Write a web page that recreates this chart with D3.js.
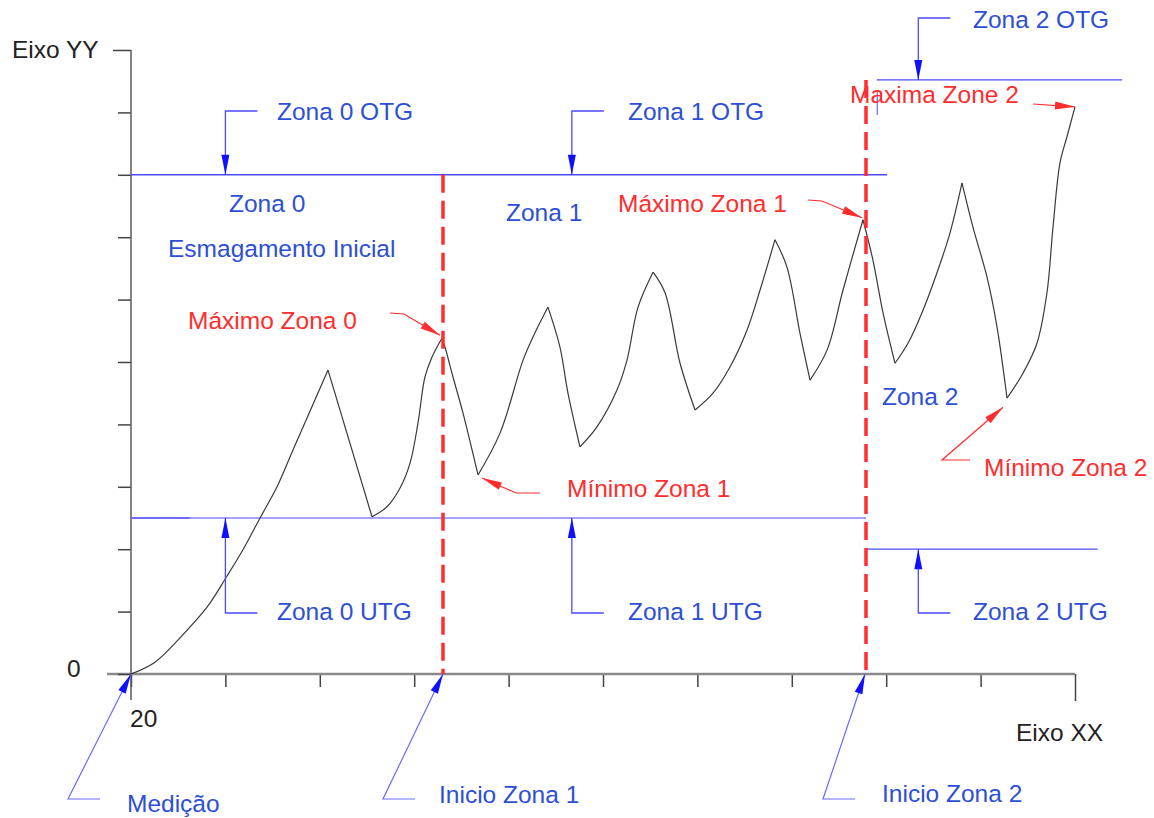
<!DOCTYPE html>
<html><head><meta charset="utf-8">
<script src="https://cdn.jsdelivr.net/npm/d3@7"></script>
<style>html,body{margin:0;padding:0;background:#fff}svg{display:block}</style>
</head><body>
<svg id="chart" width="1154" height="818"></svg>
<script>
// ---- data (x in axis units starting at 20, y in axis units starting at 0) ----
const curveX = [20.00,22.54,25.19,28.05,30.17,31.86,33.67,35.47,37.16,40.87,45.53,47.12,48.50,49.56,50.40,51.14,51.89,52.94,53.26,54.11,55.17,56.76,59.09,61.53,62.58,64.17,65.44,66.29,67.56,69.36,71.48,72.54,73.71,75.30,76.57,78.16,79.75,81.65,83.45,85.25,86.63,88.22,89.49,90.87,91.93,93.73,95.42,97.54,98.60,99.66,100.93,102.31,103.79,105.38,106.76,108.03,109.19,110.68,111.74,112.80,114.49,115.97,117.03,117.67,118.41,119.15,120.00];
const curveY = [0.00,0.19,0.58,1.07,1.57,1.99,2.50,3.00,3.59,4.87,2.52,2.68,2.98,3.38,4.02,4.76,5.08,5.38,5.24,4.76,4.18,3.19,3.86,5.03,5.40,5.88,5.24,4.50,3.64,3.96,4.55,5.03,5.88,6.44,6.11,4.98,4.23,4.50,4.92,5.51,6.15,6.96,6.52,5.46,4.71,5.19,6.15,7.28,6.63,5.79,4.98,5.30,5.79,6.43,7.07,7.87,7.16,6.36,5.56,4.42,4.82,5.30,6.11,7.16,8.19,8.61,9.09];
const xTicks = [20,30,40,50,60,70,80,90,100,110,120];
const yTicks = [0,1,2,3,4,5,6,7,8,9,10];
const xTickLabels = ["20"];
const yTickLabels = ["0"];
const zoneStarts = [53.05, 97.86];          // Inicio Zona 1, Inicio Zona 2
const otgLevels = [8.0, 8.0, 9.52];          // Zona 0, 1, 2 OTG
const utgLevels = [2.5, 2.5, 2.0];           // Zona 0, 1, 2 UTG
const otgSpans = [[20, 100.1], [99.0, 125.0]];
const utgSpans = [[20, 97.86], [97.86, 122.4]];
const leaderX = [30.0, 66.7, 103.4];         // arrow positions for zone labels
const zoneNames = ["Zona 0", "Zona 1", "Zona 2"];
const otgLabels = ["Zona 0 OTG", "Zona 1 OTG", "Zona 2 OTG"];
const utgLabels = ["Zona 0 UTG", "Zona 1 UTG", "Zona 2 UTG"];

// ---- scales ----
const x = d3.scaleLinear().domain([20, 120]).range([131, 1075]);
const y = d3.scaleLinear().domain([0, 10]).range([674, 50]);

const svg = d3.select("#chart");
const FONT = "'Liberation Sans', Arial, sans-serif";
const BLUE_T = "#2d4fd4", BLUE_L = "#4a4aff", BLUE_LIGHT = "#a3a3ff", RED = "#ff2d2d", AX = "#5a5a5a";

// ---- axes ----
const gx = svg.append("g").attr("transform", `translate(0,${y(0)})`)
  .call(d3.axisBottom(x).tickValues(xTicks).tickSize(13).tickFormat(""));
gx.select(".domain").remove();
gx.selectAll(".tick line").attr("stroke", "#444").attr("stroke-width", 1.5)
  .attr("y2", d => d === 120 ? 27 : 13);
svg.append("line").attr("x1", 107).attr("x2", x(120)).attr("y1", y(0)).attr("y2", y(0))
  .attr("stroke", "#8a8a8a").attr("stroke-width", 2.5);

const gy = svg.append("g").attr("transform", `translate(${x(20)},0)`)
  .call(d3.axisLeft(y).tickValues(yTicks).tickSize(13).tickFormat(""));
gy.select(".domain").remove();
gy.selectAll(".tick line").attr("stroke", "#444").attr("stroke-width", 1.5)
  .attr("x2", d => d === 10 ? -18 : -13);
svg.append("line").attr("x1", x(20)).attr("x2", x(20)).attr("y1", y(10)).attr("y2", y(0) + 26)
  .attr("stroke", AX).attr("stroke-width", 1.5);

function txt(s, px, py, color, anchor) {
  svg.append("text").attr("x", px).attr("y", py).attr("fill", color)
    .attr("font-family", FONT).attr("font-size", 24.5).attr("text-anchor", anchor || "start").text(s);
}
txt("Eixo YY", 12, 58, "#222");
txt("Eixo XX", 1016, 741, "#222");
txt(yTickLabels[0], 67, y(0) + 3, "#222");
txt(xTickLabels[0], x(20) - 1, y(0) + 53, "#222");

// ---- threshold lines ----
svg.append("line").attr("x1", x(otgSpans[0][0])).attr("x2", x(otgSpans[0][1]))
  .attr("y1", y(otgLevels[0])).attr("y2", y(otgLevels[0])).attr("stroke", BLUE_L).attr("stroke-width", 1.5);
svg.append("line").attr("x1", x(otgSpans[1][0])).attr("x2", x(otgSpans[1][1]))
  .attr("y1", y(otgLevels[2])).attr("y2", y(otgLevels[2])).attr("stroke", BLUE_L).attr("stroke-width", 1.3);
svg.append("line").attr("x1", x(utgSpans[0][0])).attr("x2", x(utgSpans[0][1]))
  .attr("y1", y(utgLevels[0])).attr("y2", y(utgLevels[0])).attr("stroke", BLUE_LIGHT).attr("stroke-width", 2);
svg.append("line").attr("x1", x(20)).attr("x2", x(26.2))
  .attr("y1", y(utgLevels[0])).attr("y2", y(utgLevels[0])).attr("stroke", "#6b6bff").attr("stroke-width", 2);
svg.append("line").attr("x1", x(utgSpans[1][0])).attr("x2", x(utgSpans[1][1]))
  .attr("y1", y(utgLevels[2])).attr("y2", y(utgLevels[2])).attr("stroke", BLUE_L).attr("stroke-width", 1.3);
// small blue mark near Maxima Zone 2
svg.append("line").attr("x1", x(99.05)).attr("x2", x(99.05)).attr("y1", 92).attr("y2", 115)
  .attr("stroke", BLUE_L).attr("stroke-width", 1);

// ---- curve: smooth between extrema, sharp at peaks/troughs ----
const pts = curveX.map((v, i) => [v, curveY[i]]);
const breaks = [0];
for (let i = 1; i < pts.length - 1; i++) {
  const s1 = pts[i][1] - pts[i - 1][1], s2 = pts[i + 1][1] - pts[i][1];
  if (s1 * s2 < 0) breaks.push(i);
}
breaks.push(pts.length - 1);
const seg = d3.line().x(d => x(d[0])).y(d => y(d[1])).curve(d3.curveCatmullRom.alpha(0.5));
for (let k = 0; k < breaks.length - 1; k++) {
  svg.append("path").datum(pts.slice(breaks[k], breaks[k + 1] + 1))
    .attr("d", seg).attr("fill", "none").attr("stroke", "#3a3a3a").attr("stroke-width", 1.2)
    .attr("stroke-linejoin", "miter");
}

// ---- zone boundaries ----
svg.append("line").attr("x1", x(zoneStarts[0])).attr("x2", x(zoneStarts[0]))
  .attr("y1", y(otgLevels[0])).attr("y2", y(0)).attr("stroke", RED).attr("stroke-width", 3.5).attr("stroke-dasharray", "18,8");
svg.append("line").attr("x1", x(zoneStarts[1])).attr("x2", x(zoneStarts[1]))
  .attr("y1", y(otgLevels[2])).attr("y2", y(0)).attr("stroke", RED).attr("stroke-width", 3.5).attr("stroke-dasharray", "18,8");

// ---- leaders with arrowheads ----
function leader(points, color, width) {
  svg.append("path").attr("d", d3.line()(points)).attr("fill", "none")
    .attr("stroke", color).attr("stroke-width", width || 1.3);
  const [a, b] = points.slice(-2);
  const dx = b[0] - a[0], dy = b[1] - a[1], L = Math.hypot(dx, dy);
  const ux = dx / L, uy = dy / L, len = 20, hw = 4;
  const bx = b[0] - ux * len, by = b[1] - uy * len;
  svg.append("path").attr("d", d3.line()([[b[0], b[1]], [bx - uy * hw, by + ux * hw], [bx + uy * hw, by - ux * hw]]) + "Z")
    .attr("fill", color === RED ? RED : "#1010ff");
}
const rowTop = 111, rowBottom = 613, rowTop2 = 18;
// OTG
leader([[x(leaderX[0]) + 32, rowTop], [x(leaderX[0]), rowTop], [x(leaderX[0]), y(otgLevels[0])]], BLUE_L);
leader([[x(leaderX[1]) + 32, rowTop], [x(leaderX[1]), rowTop], [x(leaderX[1]), y(otgLevels[1])]], BLUE_L);
leader([[x(leaderX[2]) + 32, rowTop2], [x(leaderX[2]), rowTop2], [x(leaderX[2]), y(otgLevels[2])]], BLUE_L);
// UTG
leader([[x(leaderX[0]) + 32, rowBottom], [x(leaderX[0]), rowBottom], [x(leaderX[0]), y(utgLevels[0])]], BLUE_L);
leader([[x(leaderX[1]) + 32, rowBottom], [x(leaderX[1]), rowBottom], [x(leaderX[1]), y(utgLevels[1])]], BLUE_L);
leader([[x(leaderX[2]) + 32, rowBottom], [x(leaderX[2]), rowBottom], [x(leaderX[2]), y(utgLevels[2])]], BLUE_L);
// zone starts
leader([[100, 799], [68, 799], [x(20), y(0)]], "#6a6aff", 1.2);
leader([[x(zoneStarts[0]) - 28, 799], [x(zoneStarts[0]) - 60, 799], [x(zoneStarts[0]), y(0)]], "#6a6aff", 1.2);
leader([[x(zoneStarts[1]) - 11, 799], [x(zoneStarts[1]) - 43, 799], [x(zoneStarts[1]) - 1, y(0)]], "#6a6aff", 1.2);

// red annotations for maxima / minima
const i0max = 17, i1min = 21, i1max = 47, i2min = 59, i2max = 66;
leader([[390, 313], [404, 314], [x(curveX[i0max]) - 2, y(curveY[i0max]) - 3]], RED, 1.2);
leader([[808, 200], [822, 201], [x(curveX[i1max]) - 1, y(curveY[i1max]) - 2]], RED, 1.2);
leader([[1033, 104], [x(curveX[i2max]), y(curveY[i2max])]], RED, 1.2);
leader([[540, 493], [516, 493], [x(curveX[i1min]) + 4, y(curveY[i1min]) + 3]], RED, 1.2);
leader([[970, 460], [942, 460], [x(curveX[i2min]) - 4, y(curveY[i2min]) + 9]], RED, 1.2);

// ---- labels ----
txt(otgLabels[0], 277, 120, BLUE_T);
txt(otgLabels[1], 628, 120, BLUE_T);
txt(otgLabels[2], 973, 28, BLUE_T);
txt(utgLabels[0], 277, 620, BLUE_T);
txt(utgLabels[1], 628, 620, BLUE_T);
txt(utgLabels[2], 973, 620, BLUE_T);
txt(zoneNames[0], 229, 212, BLUE_T);
txt("Esmagamento Inicial", 168, 257, BLUE_T);
txt(zoneNames[1], 506, 221, BLUE_T);
txt(zoneNames[2], 882, 405, BLUE_T);
txt("Máximo Zona 0", 188, 329, RED);
txt("Máximo Zona 1", 618, 212, RED);
txt("Maxima Zone 2", 850, 103, RED);
txt("Mínimo Zona 1", 567, 497, RED);
txt("Mínimo Zona 2", 984, 476, RED);
txt("Medição", 127, 812, BLUE_T);
txt("Inicio Zona 1", 439, 803, BLUE_T);
txt("Inicio Zona 2", 882, 802, BLUE_T);
</script>
</body></html>
